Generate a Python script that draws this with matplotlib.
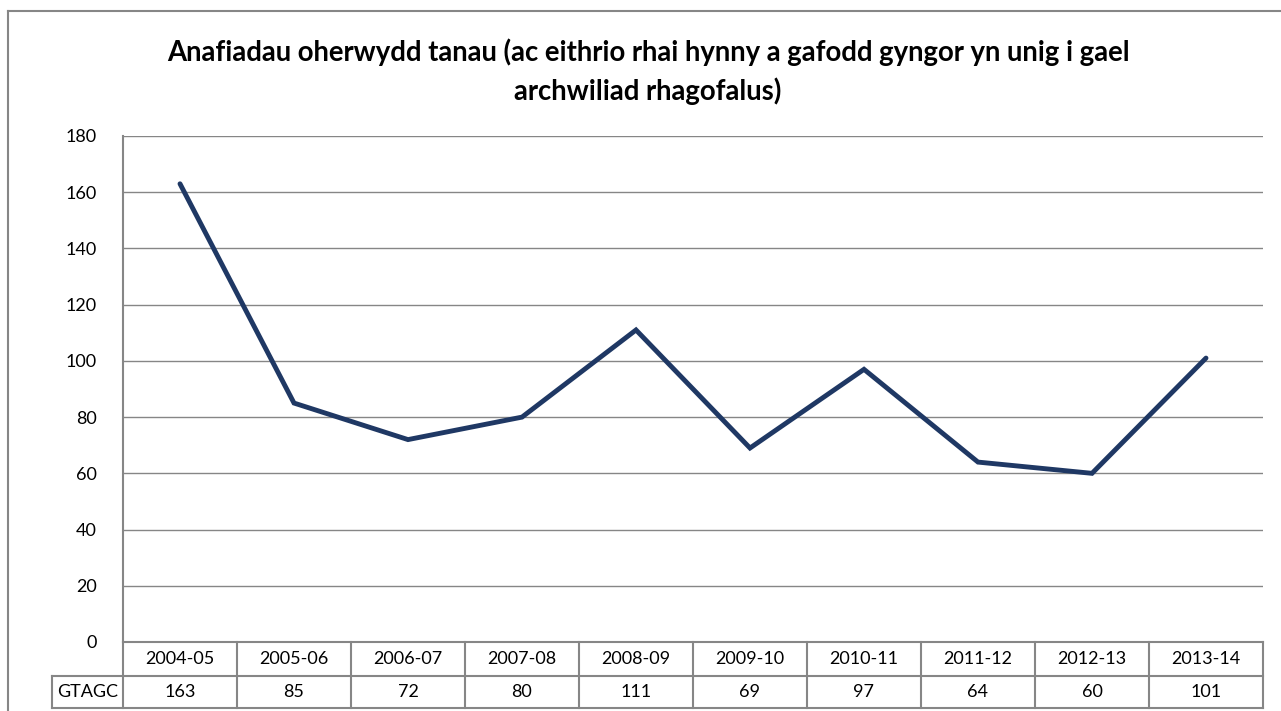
import matplotlib
matplotlib.use('Agg')
import matplotlib.pyplot as plt
from matplotlib.lines import Line2D
from matplotlib.transforms import blended_transform_factory

plt.rcParams['font.family'] = ['Lato', 'DejaVu Sans']

years = ['2004-05', '2005-06', '2006-07', '2007-08', '2008-09',
         '2009-10', '2010-11', '2011-12', '2012-13', '2013-14']
injuries = [163, 85, 72, 80, 111, 69, 97, 64, 60, 101]
series_name = 'GTAGC'
y_ticks = list(range(0, 181, 20))
title = ('Anafiadau oherwydd tanau (ac eithrio rhai hynny a gafodd gyngor yn unig i gael\n'
         'archwiliad rhagofalus)')

W, H = 1281, 711
fig = plt.figure(figsize=(W / 100, H / 100), dpi=100)
grid_col = '#868686'
line_col = '#1F3864'
fs = 13

# plot area in pixels: left 123, right 1263, top 136, bottom 642
ax = fig.add_axes([123 / W, 1 - 642 / H, (1263 - 123) / W, (642 - 136) / H])
x = list(range(len(years)))
ax.plot(x, injuries, color=line_col, lw=3.5, solid_capstyle='round', solid_joinstyle='miter')
ax.set_xlim(-0.5, len(years) - 0.5)
ax.set_ylim(0, 180)
ax.set_yticks(y_ticks)
ax.set_yticklabels([str(t) for t in y_ticks], fontsize=fs)
ax.tick_params(axis='y', length=0, pad=19)
ax.set_xticks([])
for t in y_ticks[1:]:
    ax.axhline(t, color=grid_col, lw=1.0, zorder=0)
for side in ['top', 'right']:
    ax.spines[side].set_visible(False)
ax.spines['left'].set_color(grid_col)
ax.spines['bottom'].set_color(grid_col)
ax.spines['left'].set_linewidth(1.5)
ax.spines['bottom'].set_linewidth(1.5)

# data table under the axis
ph = 642 - 136
pw = 1263 - 123
r1 = -34 / ph
r2 = -66 / ph
label_x = (52 - 123) / pw
tb = blended_transform_factory(ax.transData, ax.transAxes)
ta = ax.transAxes
kw = dict(color=grid_col, lw=1.5, clip_on=False)
for i in range(len(years) + 1):
    ax.add_line(Line2D([i - 0.5, i - 0.5], [0, r2], transform=tb, **kw))
ax.add_line(Line2D([label_x, 1], [r1, r1], transform=ta, **kw))
ax.add_line(Line2D([label_x, 1], [r2, r2], transform=ta, **kw))
ax.add_line(Line2D([label_x, label_x], [r1, r2], transform=ta, **kw))
for i, (yr, v) in enumerate(zip(years, injuries)):
    ax.text(i, r1 / 2, yr, transform=tb, ha='center', va='center', fontsize=fs)
    ax.text(i, (r1 + r2) / 2, str(v), transform=tb, ha='center', va='center', fontsize=fs)
ax.text(label_x / 2, (r1 + r2) / 2, series_name, transform=ta, ha='center', va='center', fontsize=fs)

fig.text(648 / W, 1 - 72 / H, title, ha='center', va='center', fontsize=19.8,
         fontweight='bold', linespacing=1.5)

# chart border (partly cut off on the right and bottom)
fig.add_artist(Line2D([8 / W, 8 / W], [0, 1 - 11 / H], color=grid_col, lw=1.5))
fig.add_artist(Line2D([8 / W, 1], [1 - 11 / H, 1 - 11 / H], color=grid_col, lw=1.5))

fig.savefig('out.png', dpi=100, facecolor='white')
